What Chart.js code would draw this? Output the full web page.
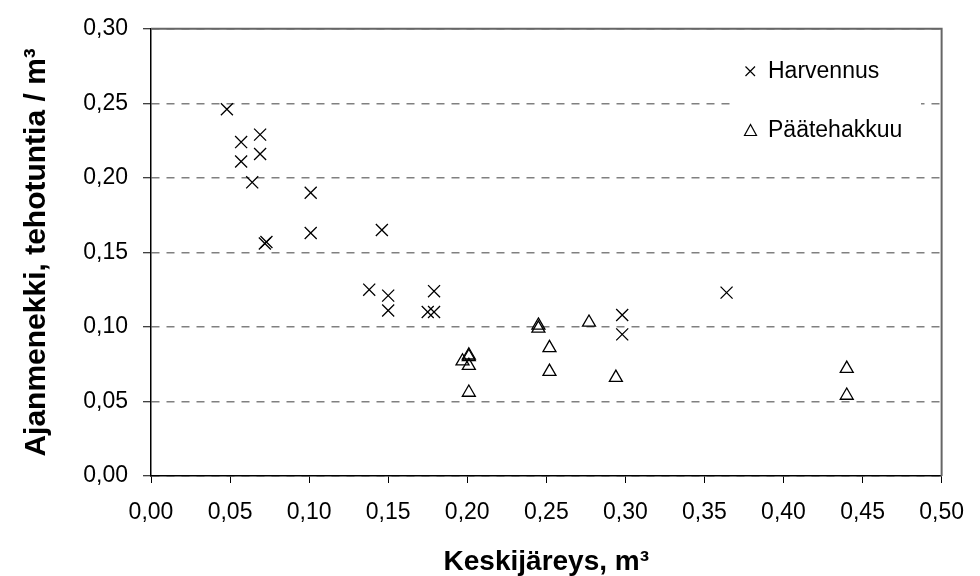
<!DOCTYPE html>
<html>
<head>
<meta charset="utf-8">
<script src="https://cdn.jsdelivr.net/npm/chart.js@4.4.0/dist/chart.umd.min.js"></script>
<style>
  html, body { margin: 0; padding: 0; background: #fff; }
  #wrap { width: 980px; height: 576px; }
</style>
</head>
<body>
<div id="wrap"><canvas id="scatterChart" width="980" height="576"></canvas></div>
<script>
// Harvennus (thinning) measurements: mean stem size vs time per m3
const harvX = [0.048, 0.057, 0.069, 0.057, 0.069, 0.064, 0.072, 0.073, 0.101, 0.101,
               0.146, 0.138, 0.150, 0.150, 0.179, 0.175, 0.179, 0.298, 0.298, 0.364];
const harvY = [0.246, 0.224, 0.229, 0.211, 0.216, 0.197, 0.156, 0.157, 0.190, 0.163,
               0.165, 0.125, 0.121, 0.111, 0.124, 0.110, 0.110, 0.108, 0.095, 0.123];

// Päätehakkuu (final felling) measurements
const paatX = [0.197, 0.201, 0.201, 0.201, 0.201, 0.245, 0.245, 0.252, 0.252, 0.277, 0.294, 0.440, 0.440];
const paatY = [0.077, 0.080, 0.081, 0.074, 0.056, 0.101, 0.099, 0.086, 0.070, 0.103, 0.066, 0.072, 0.054];

const seriesNames = ['Harvennus', 'Päätehakkuu'];
const xTitle = 'Keskijäreys, m³';
const yTitle = 'Ajanmenekki, tehotuntia / m³';

const FONT = '"Liberation Sans", Arial, sans-serif';

function toPoints(xs, ys) {
  return xs.map((x, i) => ({ x: x, y: ys[i] }));
}

// decimal comma like the Finnish original
function fmt(v) {
  return v.toFixed(2).replace('.', ',');
}

// gray top/right frame of the plot area
const frame = {
  id: 'frame',
  afterDatasetsDraw(chart) {
    const { ctx, chartArea: a } = chart;
    ctx.save();
    ctx.strokeStyle = '#666';
    ctx.lineWidth = 2;
    ctx.beginPath();
    ctx.moveTo(a.left, a.top);
    ctx.lineTo(a.right, a.top);
    ctx.lineTo(a.right, a.bottom);
    ctx.stroke();
    ctx.restore();
  }
};

// legend sits inside the plot, on a white box over the grid
const insideLegend = {
  id: 'insideLegend',
  afterDraw(chart) {
    const ctx = chart.ctx;
    ctx.save();
    ctx.fillStyle = '#fff';
    ctx.fillRect(730, 44, 191, 112);

    ctx.strokeStyle = '#000';
    ctx.lineWidth = 1.2;
    // small x
    ctx.beginPath();
    ctx.moveTo(745.5, 66.5); ctx.lineTo(755, 76);
    ctx.moveTo(755, 66.5); ctx.lineTo(745.5, 76);
    ctx.stroke();
    // small triangle
    ctx.beginPath();
    ctx.moveTo(750.5, 124.5); ctx.lineTo(744.5, 135.5); ctx.lineTo(756.5, 135.5);
    ctx.closePath();
    ctx.stroke();

    ctx.fillStyle = '#000';
    ctx.font = '23px ' + FONT;
    ctx.textBaseline = 'middle';
    ctx.textAlign = 'left';
    ctx.fillText(seriesNames[0], 768, 72);
    ctx.fillText(seriesNames[1], 768, 131);
    ctx.restore();
  }
};

const ctx = document.getElementById('scatterChart').getContext('2d');

new Chart(ctx, {
  type: 'scatter',
  data: {
    datasets: [{
      label: seriesNames[0],
      data: toPoints(harvX, harvY),
      pointStyle: 'crossRot',
      pointRadius: 8.5,
      pointHoverRadius: 8.5,
      borderColor: '#000',
      borderWidth: 1.3,
      backgroundColor: 'transparent'
    }, {
      label: seriesNames[1],
      data: toPoints(paatX, paatY),
      pointStyle: 'triangle',
      pointRadius: 7.5,
      pointHoverRadius: 7.5,
      borderColor: '#000',
      borderWidth: 1.3,
      backgroundColor: 'transparent'
    }]
  },
  options: {
    responsive: false,
    animation: false,
    layout: { padding: { left: 0, top: 20, right: 38, bottom: 0 } },
    plugins: {
      legend: { display: false },
      tooltip: { enabled: false }
    },
    scales: {
      x: {
        type: 'linear',
        min: 0,
        max: 0.5,
        afterFit(scale) { scale.height = 100; },
        border: { display: true, color: '#000', width: 1.5 },
        grid: {
          drawOnChartArea: false,
          drawTicks: true,
          tickLength: 7,
          tickColor: '#000'
        },
        ticks: {
          stepSize: 0.05,
          padding: 16,
          color: '#000',
          font: { family: FONT, size: 23 },
          maxRotation: 0,
          callback: (v) => fmt(v)
        },
        title: {
          display: true,
          text: xTitle,
          color: '#000',
          font: { family: FONT, size: 28, weight: 'bold', lineHeight: 1 },
          padding: 0
        }
      },
      y: {
        type: 'linear',
        min: 0,
        max: 0.3,
        afterFit(scale) { scale.width = 151; },
        // in v4 border.dash is what dashes the grid lines
        border: { display: true, color: '#000', width: 1.5, dash: [8, 7] },
        grid: {
          color: '#808080',
          lineWidth: 1.5,
          tickLength: 8,
          tickColor: '#000',
          tickWidth: 1,
          tickBorderDash: []
        },
        ticks: {
          stepSize: 0.05,
          padding: 15,
          color: '#000',
          font: { family: FONT, size: 23 },
          callback: (v) => fmt(v)
        },
        title: {
          display: true,
          text: yTitle,
          color: '#000',
          font: { family: FONT, size: 30, weight: 'bold', lineHeight: 1.2 },
          padding: { top: 19, bottom: 0 }
        }
      }
    }
  },
  plugins: [frame, insideLegend]
});
</script>
</body>
</html>
